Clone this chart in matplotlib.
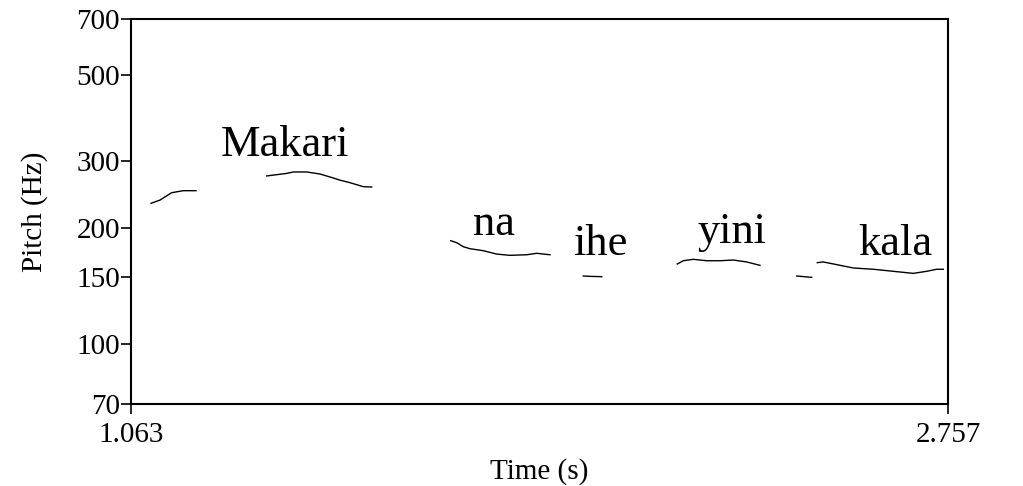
import matplotlib
matplotlib.use("Agg")
import matplotlib.pyplot as plt
from matplotlib.ticker import FixedLocator, NullLocator

plt.rcParams['font.family'] = ['Liberation Serif', 'DejaVu Serif']

# Pitch contour segments (time s, pitch Hz)
seg1_t = [1.1045, 1.1231, 1.1474, 1.1714, 1.1978]
seg1_f = [232.5, 237.0, 247.7, 250.7, 250.7]
seg2_t = [1.3444, 1.3858, 1.3995, 1.4273, 1.4549, 1.4825, 1.4963, 1.5170, 1.5447, 1.5621]
seg2_f = [273.8, 278.0, 280.4, 280.4, 277.0, 270.5, 267.0, 263.0, 256.8, 256.3]
seg3_t = [1.7259, 1.7383, 1.7520, 1.7659, 1.7935, 1.8212, 1.8488, 1.8834, 1.9042, 1.9318]
seg3_f = [185.9, 183.7, 179.3, 177.2, 175.1, 171.6, 170.3, 170.9, 172.4, 170.9]
seg4_t = [2.0008, 2.0147, 2.0390]
seg4_f = [150.5, 150.2, 149.9]
seg5_t = [2.1957, 2.2081, 2.2288, 2.2566, 2.2842, 2.3118, 2.3396, 2.3672]
seg5_f = [161.7, 164.9, 166.3, 164.9, 164.9, 165.6, 163.7, 160.4]
seg6_t = [2.4433, 2.4744]
seg6_f = [150.5, 149.3]
seg7_t = [2.4860, 2.4984, 2.5262, 2.5606, 2.6021, 2.6436, 2.6850, 2.7128, 2.7336, 2.7472]
seg7_f = [163.0, 163.7, 161.1, 157.9, 156.7, 154.8, 152.9, 154.8, 156.7, 156.7]
segments = [(seg1_t, seg1_f), (seg2_t, seg2_f), (seg3_t, seg3_f), (seg4_t, seg4_f),
            (seg5_t, seg5_f), (seg6_t, seg6_f), (seg7_t, seg7_f)]

# Word labels: text, time, pitch (baseline)
words = ["Makari", "na", "ihe", "yini", "kala"]
word_t = [1.3823, 1.8146, 2.0354, 2.3090, 2.6480]
word_f = [309.0, 192.4, 170.7, 183.3, 170.7]

x_min, x_max = 1.063, 2.757
y_min, y_max = 70, 700
y_ticks = [70, 100, 150, 200, 300, 500, 700]
x_ticks = [1.063, 2.757]
x_tick_labels = ["1.063", "2.757"]

fig = plt.figure(figsize=(10.23, 4.86), dpi=100)
ax = fig.add_axes([131/1023, (486-404)/486, (948-131)/1023, (404-19)/486])

for t, f in segments:
    ax.plot(t, f, color='black', linewidth=1.0)

for w, t, f in zip(words, word_t, word_f):
    ax.text(t, f, w, fontsize=32, ha='center', va='baseline')

ax.set_yscale('log')
ax.set_xlim(x_min, x_max)
ax.set_ylim(y_min, y_max)
ax.yaxis.set_major_locator(FixedLocator(y_ticks))
ax.yaxis.set_minor_locator(NullLocator())
ax.set_yticklabels([str(v) for v in y_ticks])
ax.set_xticks(x_ticks)
ax.set_xticklabels(x_tick_labels)
ax.tick_params(axis='both', direction='out', length=7, width=1.2, labelsize=21)
ax.tick_params(axis='y', pad=1)
ax.tick_params(axis='x', pad=6)
for s in ax.spines.values():
    s.set_linewidth(1.5)

ax.set_xlabel("Time (s)", fontsize=21, labelpad=7)
ax.set_ylabel("Pitch (Hz)", fontsize=21, labelpad=20)

fig.savefig("out.png", dpi=100)
